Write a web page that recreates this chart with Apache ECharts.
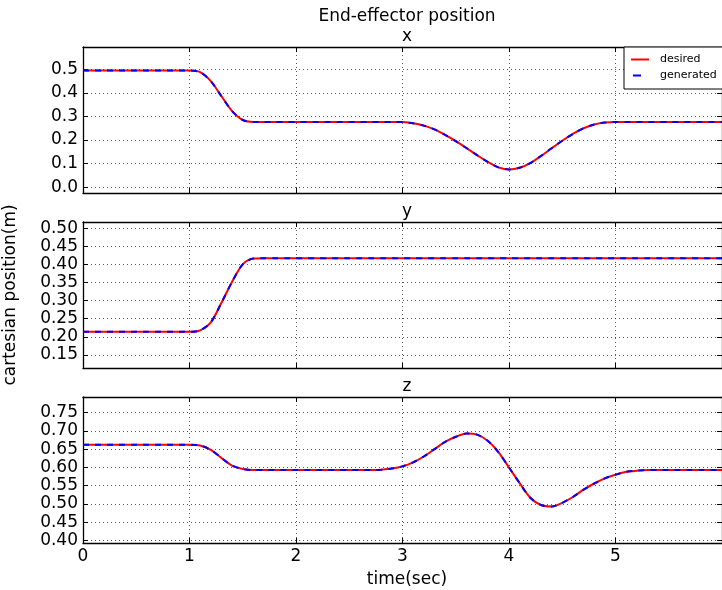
<!DOCTYPE html>
<html>
<head>
<meta charset="utf-8">
<script src="https://cdn.jsdelivr.net/npm/echarts@6/dist/echarts.min.js"></script>
<style>
  html, body { margin: 0; padding: 0; background: #fff; }
  #chart { width: 722px; height: 590px; }
</style>
</head>
<body>
<div id="chart"></div>
<script>
// Sample times (s)
const timeSec = [
  0.0, 0.1, 0.2, 0.3, 0.4, 0.5, 0.6, 0.7, 0.8, 0.9,
  1.0, 1.1, 1.2, 1.3, 1.4, 1.5, 1.6, 1.7, 1.8, 1.9,
  2.0, 2.1, 2.2, 2.3, 2.4, 2.5, 2.6, 2.7, 2.8, 2.9,
  3.0, 3.1, 3.2, 3.3, 3.4, 3.5, 3.6, 3.7, 3.8, 3.9,
  4.0, 4.1, 4.2, 4.3, 4.4, 4.5, 4.6, 4.7, 4.8, 4.9,
  5.0, 5.1, 5.2, 5.3, 5.4, 5.5, 5.6, 5.7, 5.8, 5.9,
  6.0
];

// End-effector x (m)
const xDesired = [
  0.495, 0.495, 0.495, 0.495, 0.495, 0.495, 0.495, 0.495, 0.495, 0.495,
  0.495, 0.488, 0.450, 0.386, 0.323, 0.285, 0.277, 0.277, 0.277, 0.277,
  0.277, 0.277, 0.277, 0.277, 0.277, 0.277, 0.277, 0.277, 0.277, 0.277,
  0.276, 0.271, 0.261, 0.245, 0.222, 0.195, 0.166, 0.136, 0.107, 0.084,
  0.075, 0.082, 0.102, 0.132, 0.165, 0.197, 0.226, 0.250, 0.266, 0.274,
  0.277, 0.277, 0.277, 0.277, 0.277, 0.277, 0.277, 0.277, 0.277, 0.277,
  0.277
];
const xGenerated = [...xDesired];

// End-effector y (m)
const yDesired = [
  0.214, 0.214, 0.214, 0.214, 0.214, 0.214, 0.214, 0.214, 0.214, 0.214,
  0.214, 0.218, 0.240, 0.294, 0.352, 0.400, 0.416, 0.417, 0.417, 0.417,
  0.417, 0.417, 0.417, 0.417, 0.417, 0.417, 0.417, 0.417, 0.417, 0.417,
  0.417, 0.417, 0.417, 0.417, 0.417, 0.417, 0.417, 0.417, 0.417, 0.417,
  0.417, 0.417, 0.417, 0.417, 0.417, 0.417, 0.417, 0.417, 0.417, 0.417,
  0.417, 0.417, 0.417, 0.417, 0.417, 0.417, 0.417, 0.417, 0.417, 0.417,
  0.417
];
const yGenerated = [...yDesired];

// End-effector z (m)
const zDesired = [
  0.662, 0.662, 0.662, 0.662, 0.662, 0.662, 0.662, 0.662, 0.662, 0.662,
  0.662, 0.660, 0.648, 0.626, 0.605, 0.596, 0.593, 0.593, 0.593, 0.593,
  0.593, 0.593, 0.593, 0.593, 0.593, 0.593, 0.593, 0.593, 0.594, 0.597,
  0.603, 0.614, 0.630, 0.650, 0.670, 0.684, 0.693, 0.690, 0.673, 0.642,
  0.600, 0.557, 0.517, 0.497, 0.493, 0.503, 0.519, 0.539, 0.556, 0.570,
  0.580, 0.588, 0.591, 0.593, 0.593, 0.593, 0.593, 0.593, 0.593, 0.593,
  0.593
];
const zGenerated = [...zDesired];

// Tick values
const timeTicks = [0, 1, 2, 3, 4, 5];
const xPosTicks = [0.0, 0.1, 0.2, 0.3, 0.4, 0.5];
const yPosTicks = [0.15, 0.20, 0.25, 0.30, 0.35, 0.40, 0.45, 0.50];
const zPosTicks = [0.40, 0.45, 0.50, 0.55, 0.60, 0.65, 0.70, 0.75];

const FONT = 'DejaVu Sans';
const panels = [
  { title: 'x', desired: xDesired, generated: xGenerated, ticks: xPosTicks, digits: 1 },
  { title: 'y', desired: yDesired, generated: yGenerated, ticks: yPosTicks, digits: 2 },
  { title: 'z', desired: zDesired, generated: zGenerated, ticks: zPosTicks, digits: 2 }
];

const gridTops = [47, 222, 397];
const gridLeft = 83, gridWidth = 641, gridHeight = 146;

const dotted = { color: '#000', width: 1, type: [1, 3], opacity: 0.65 };
const frame = { onZero: false, lineStyle: { color: '#000', width: 1.3 } };
const inTick = { show: true, inside: true, length: 5, lineStyle: { color: '#000', width: 1 } };
const textBase = { fontFamily: FONT, fontSize: 17, fontWeight: 'normal', color: '#000' };

const grids = [], xAxes = [], yAxes = [], series = [], titles = [];

titles.push({ text: 'End-effector position', left: 402, top: 3, textAlign: 'center', textStyle: textBase });

panels.forEach((p, i) => {
  const lo = Math.min(...p.desired) - 0.1;
  const hi = Math.max(...p.desired) + 0.1;
  const last = i === panels.length - 1;

  grids.push({ left: gridLeft, top: gridTops[i], width: gridWidth, height: gridHeight });

  titles.push({ text: p.title, left: 402, top: gridTops[i] - 24, textAlign: 'center', textStyle: textBase });

  // bottom time axis
  xAxes.push({
    gridIndex: i, type: 'value', min: 0, max: 6, interval: 1, position: 'bottom',
    axisLine: frame, axisTick: inTick,
    axisLabel: { show: last, margin: 5, fontFamily: FONT, fontSize: 17, color: '#000',
      customValues: timeTicks, formatter: v => String(v) },
    splitLine: { show: true, lineStyle: dotted }
  });
  // top frame edge with ticks
  xAxes.push({
    gridIndex: i, type: 'value', min: 0, max: 6, interval: 1, position: 'top',
    axisLine: frame, axisTick: inTick, axisLabel: { show: false }, splitLine: { show: false }
  });
  // left position axis
  yAxes.push({
    gridIndex: i, type: 'value', min: lo, max: hi, position: 'left',
    axisLine: frame,
    axisTick: Object.assign({ customValues: p.ticks }, inTick),
    axisLabel: { margin: 5, fontFamily: FONT, fontSize: 17, color: '#000',
      customValues: p.ticks, formatter: v => v.toFixed(p.digits) },
    splitLine: { show: true, lineStyle: dotted }
  });
  // right frame edge with ticks
  yAxes.push({
    gridIndex: i, type: 'value', min: lo, max: hi, position: 'right',
    axisLine: frame,
    axisTick: Object.assign({ customValues: p.ticks }, inTick),
    axisLabel: { show: false }, splitLine: { show: false }
  });

  series.push({
    name: 'desired', type: 'line', xAxisIndex: 2 * i, yAxisIndex: 2 * i,
    data: timeSec.map((t, k) => [t, p.desired[k]]),
    symbol: 'none', smooth: 0.3, z: 2,
    lineStyle: { color: '#ff0000', width: 2 }, itemStyle: { color: '#ff0000' }
  });
  series.push({
    name: 'generated', type: 'line', xAxisIndex: 2 * i, yAxisIndex: 2 * i,
    data: timeSec.map((t, k) => [t, p.generated[k]]),
    symbol: 'none', smooth: 0.3, z: 3,
    lineStyle: { color: '#0000ff', width: 2, type: [6, 6] }, itemStyle: { color: '#0000ff' }
  });
});

titles.push({ text: 'time(sec)', left: 402, top: 566, textAlign: 'center', textStyle: textBase });

const chart = echarts.init(document.getElementById('chart'), null, { renderer: 'canvas' });
chart.setOption({
  animation: false,
  backgroundColor: '#fff',
  title: titles,
  grid: grids,
  xAxis: xAxes,
  yAxis: yAxes,
  series: series,
  legend: {
    data: [
      { name: 'desired', icon: 'path://M0,0h18v2h-18z' },
      { name: 'generated', icon: 'path://M0,0M2,0h8v2h-8zM18,2' }
    ],
    orient: 'vertical', left: 624, top: 47,
    backgroundColor: '#fff', borderColor: '#000', borderWidth: 1,
    padding: [7, 14, 8, 7], itemWidth: 18, itemHeight: 2, itemGap: 5,
    itemStyle: { borderWidth: 0 },
    textStyle: { fontFamily: FONT, fontSize: 11, color: '#000', padding: [0, 0, 0, 6] }
  },
  graphic: [{
    type: 'text', x: 11, y: 295, rotation: Math.PI / 2,
    style: { text: 'cartesian position(m)', fontFamily: FONT, fontSize: 17, fill: '#000',
      textAlign: 'center', textVerticalAlign: 'middle' }
  }]
});
</script>
</body>
</html>
